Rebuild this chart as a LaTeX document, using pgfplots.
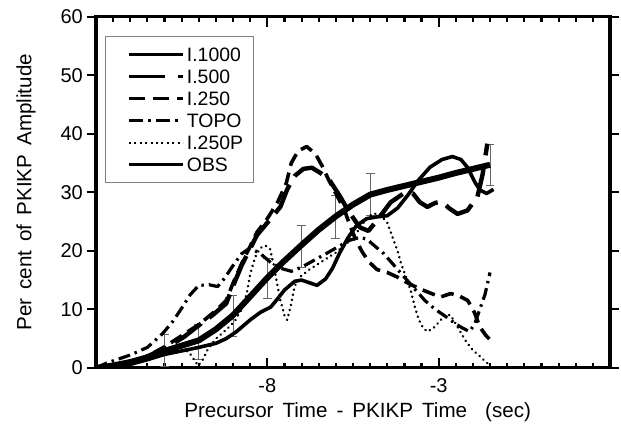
\documentclass[border=0pt]{standalone}
\usepackage{fontspec}
\setmainfont{Liberation Sans}
\usepackage{pgfplots}
\pgfplotsset{compat=1.18}

\pgfplotsset{
  frame/.style={
    width=257pt, height=175.6pt, scale only axis,
    xmin=-13, xmax=2, ymin=0, ymax=60,
    axis line style={line width=1.6pt},
  },
  lg/.style={legend image code/.code={\path (-5.7pt,0pt); \draw[##1] (0pt,0pt) -- (27pt,0pt);}},
}

\begin{document}
\begin{tikzpicture}

% y axis: ticks point outward
\begin{axis}[frame,
    xtick=\empty,
    ytick={0,10,...,60},
    tick align=outside,
    major tick length=4.7pt,
    ytick style={line width=1pt, black},
    yticklabel style={font=\fontsize{10}{12}\selectfont, inner sep=0pt, xshift=-1.7pt},
    /pgf/number format/assume math mode=true,
    ylabel={Per\hspace{4.5pt}cent\hspace{4.5pt}of\hspace{4.5pt}PKIKP\hspace{4.5pt}Amplitude},
    ylabel style={at={(axis description cs:-0.136,0.5)}, anchor=center, font=\fontsize{10.3}{12}\selectfont},
]
\end{axis}

% data, x ticks point inward
\begin{axis}[frame, lg,
    ytick=\empty,
    xtick={-13,-8,-3,2},
    xticklabels={,-8,-3,},
    minor x tick num=9,
    tick align=inside,
    major tick length=5pt,
    minor tick length=2.6pt,
    xtick style={line width=1.1pt, black},
    xticklabel style={font=\fontsize{10}{12}\selectfont, anchor=base, yshift=-12.5pt},
    xlabel={Precursor\hspace{4.5pt}Time\hspace{4.5pt}-\hspace{4.5pt}PKIKP\hspace{4.5pt}Time\hspace{9pt}(sec)},
    xlabel style={at={(axis description cs:0.509,0)}, anchor=base, yshift=-25pt, font=\fontsize{10.3}{12}\selectfont},
    legend style={at={(axis description cs:0.018,0.945)}, anchor=north west,
      draw=gray, line width=0.5pt, inner xsep=5pt, inner ysep=5.5pt,
      font=\fontsize{9.7}{11}\selectfont, row sep=4pt, column sep=1pt,
      nodes={inner sep=0pt, text height=7pt, text depth=0pt}},
    legend cell align=left,
]
\path (rel axis cs:0,0) coordinate (sw) (rel axis cs:1,1) coordinate (ne);

\addlegendimage{line width=1.25pt}
\addlegendentry{I.1000}
\addlegendimage{line width=1.25pt, dash pattern=on 18pt off 6.7pt}
\addlegendentry{I.500}
\addlegendimage{line width=1.1pt, dash pattern=on 8pt off 4pt}
\addlegendentry{I.250}
\addlegendimage{line width=1.1pt, dash pattern=on 7pt off 2.5pt on 1.5pt off 2.5pt}
\addlegendentry{TOPO}
\addlegendimage{line width=1pt, dash pattern=on 1pt off 1.7pt}
\addlegendentry{I.250P}
\addlegendimage{line width=1.9pt}
\addlegendentry{OBS}

% observed error bars (the connecting line is made invisible)
\addplot[forget plot, gray!80!black, line width=0.6pt, draw opacity=0, mark=none,
  error bars/.cd, y dir=both, y explicit, error mark=-,
  error bar style={draw opacity=1, solid},
  error mark options={draw opacity=1, solid, mark size=2.2pt, rotate=90}]
coordinates {
  (-11,3.0) +- (0,2.7)
  (-10,4.5) +- (0,3.0)
  (-9,8.8) +- (0,3.5)
  (-8,15.3) +- (0,3.45)
  (-7,20.8) +- (0,3.6)
  (-6,25.8) +- (0,3.7)
  (-5,29.6) +- (0,3.55)
  (-1.5,34.7) +- (0,3.55)
};

% I.1000
\addplot[forget plot, black, line width=1.8pt, line join=round] coordinates {
  (-13,0) (-12.5,0.2) (-12,0.6) (-11.5,1.4) (-11,2.3) (-10.5,2.9) (-10,3.5)
  (-9.5,4.2) (-9.2,5.0) (-8.9,6.2) (-8.5,8.2) (-8.2,9.5) (-7.9,10.4) (-7.7,11.8)
  (-7.5,13.3) (-7.2,14.8) (-7.0,15.0) (-6.8,14.6) (-6.55,14.1) (-6.3,15.2)
  (-6.1,17.0) (-5.9,19.5) (-5.65,22.2) (-5.4,24.3) (-5.1,25.5) (-4.8,25.8)
  (-4.5,26.0) (-4.2,27.3) (-3.9,29.5) (-3.6,32.0) (-3.25,34.3) (-2.9,35.6)
  (-2.6,36.1) (-2.35,35.6) (-2.15,34.2) (-1.95,31.8) (-1.8,30.4) (-1.6,29.8)
  (-1.4,30.5)
};

% I.500
\addplot[forget plot, black, line width=2.2pt, line join=round, dash pattern=on 16pt off 5pt] coordinates {
  (-13,0) (-12.5,0.3) (-12,0.9) (-11.6,1.7) (-11,3.3) (-10.43,5.3) (-10.06,7.0)
  (-9.6,9.0) (-9.2,11.0) (-9.0,14.0) (-8.75,17.5) (-8.5,20.4) (-8.3,22.7)
  (-8.0,24.8) (-7.62,27.5) (-7.42,30.5) (-7.2,32.8) (-6.95,34.0) (-6.7,34.2)
  (-6.45,33.3) (-6.2,32.2) (-5.9,29.5) (-5.6,26.5) (-5.3,24.0) (-5.05,23.4)
  (-4.8,25.2) (-4.4,28.3) (-4.0,29.9) (-3.75,29.8) (-3.55,28.3) (-3.33,27.5)
  (-3.1,28.2) (-2.9,28.4) (-2.7,27.3) (-2.45,26.3) (-2.16,26.9) (-1.87,29.2)
  (-1.72,33) (-1.58,38.3)
};

% I.250
\addplot[forget plot, black, line width=1.8pt, line join=round, dash pattern=on 6.5pt off 3.5pt] coordinates {
  (-13,0) (-12.5,0.4) (-12,1.0) (-11.5,2.0) (-11,3.6) (-10.5,5.5) (-10,7.4)
  (-9.5,9.8) (-9.2,11.5) (-9.0,14.5) (-8.75,17.8) (-8.5,20.8) (-8.3,23.2)
  (-8.0,25.5) (-7.7,28.3) (-7.45,31.5) (-7.3,35.0) (-7.1,37.1) (-6.85,37.8)
  (-6.6,36.6) (-6.4,34.5) (-6.2,32.0) (-6.0,29.8) (-5.75,27.0) (-5.6,24.5)
  (-5.45,22.3) (-5.25,20.0) (-5.05,18.2) (-4.8,16.8) (-4.5,16.3) (-4.2,15.5)
  (-3.9,14.5) (-3.55,13.5) (-3.25,12.8) (-2.95,12.1) (-2.65,12.7) (-2.4,12.3)
  (-2.15,11.5) (-1.95,9.4) (-1.8,7.0) (-1.63,5.6) (-1.45,4.5)
};

% TOPO
\addplot[forget plot, black, line width=1.6pt, line join=round, dash pattern=on 6pt off 2.5pt on 1.2pt off 2.5pt] coordinates {
  (-13,0) (-12.7,0.8) (-12.3,1.6) (-12,2.2) (-11.5,3.5) (-11.05,5.9) (-10.75,8.0)
  (-10.5,10.2) (-10.25,12.5) (-10.0,14.1) (-9.7,14.2) (-9.45,13.9) (-9.25,15.3)
  (-9.0,17.5) (-8.75,19.5) (-8.5,20.5) (-8.2,19.5) (-7.9,18.0) (-7.6,17.0)
  (-7.3,16.5) (-7.0,17.2) (-6.6,18.5) (-6.2,19.8) (-5.9,20.8) (-5.6,21.8)
  (-5.3,22.3) (-5.1,22.0) (-4.9,21.0) (-4.6,19.5) (-4.3,17.5) (-4.0,15.5)
  (-3.7,13.5) (-3.4,11.5) (-3.1,10.0) (-2.8,8.8) (-2.5,7.5) (-2.3,6.8)
  (-2.1,6.2) (-1.95,7.5) (-1.8,10.0) (-1.65,12.5) (-1.5,16.3)
};

% I.250P
\addplot[forget plot, black, line width=1.3pt, line cap=round, dash pattern=on 0.1pt off 2.5pt] coordinates {
  (-13,0) (-12.5,0.3) (-12,0.8) (-11.5,1.6) (-11,2.5) (-10.6,3.2) (-10.3,2.8)
  (-10.15,1.5) (-10.02,0.4) (-9.9,1.2) (-9.75,3.0) (-9.5,5.0) (-9.2,6.5)
  (-8.95,8.0) (-8.75,10.0) (-8.6,12.7) (-8.5,16.0) (-8.35,19.0) (-8.2,20.5)
  (-8.06,20.9) (-7.92,20.3) (-7.82,17.8) (-7.72,14.5) (-7.62,11.6) (-7.5,9.0)
  (-7.42,8.2) (-7.32,10.5) (-7.2,14.0) (-7.05,15.5) (-6.8,16.7) (-6.4,18.2)
  (-6.0,19.7) (-5.6,21.7) (-5.3,23.8) (-5.1,25.6) (-4.9,26.4) (-4.7,26.1)
  (-4.5,24.8) (-4.35,22.4) (-4.2,20.0) (-4.1,17.9) (-3.95,15.5) (-3.82,13.3)
  (-3.7,10.5) (-3.58,8.2) (-3.45,6.8) (-3.33,6.2) (-3.15,6.8) (-3.0,7.8)
  (-2.8,9.1) (-2.65,9.0) (-2.45,7.0) (-2.2,4.5) (-2.0,3.0) (-1.8,2.0) (-1.58,0.8)
};

% OBS
\addplot[forget plot, black, line width=3pt, line join=round] coordinates {
  (-13,0) (-12.5,0.4) (-12,1.0) (-11.5,1.8) (-11,2.9) (-10.5,3.8) (-10,4.7)
  (-9.5,6.6) (-9,9.0) (-8.5,12.2) (-8,15.4) (-7.5,18.3) (-7,21.0) (-6.5,23.6)
  (-6,25.9) (-5.5,27.9) (-5,29.6) (-4.5,30.4) (-4,31.1) (-3.5,31.8) (-3,32.5)
  (-2.5,33.3) (-2,34.0) (-1.5,34.7)
};
\end{axis}

\pgfresetboundingbox
\path ([shift={(-48pt,-28.5pt)}]sw) rectangle ([shift={(5.5pt,8.35pt)}]ne);
\end{tikzpicture}
\end{document}
